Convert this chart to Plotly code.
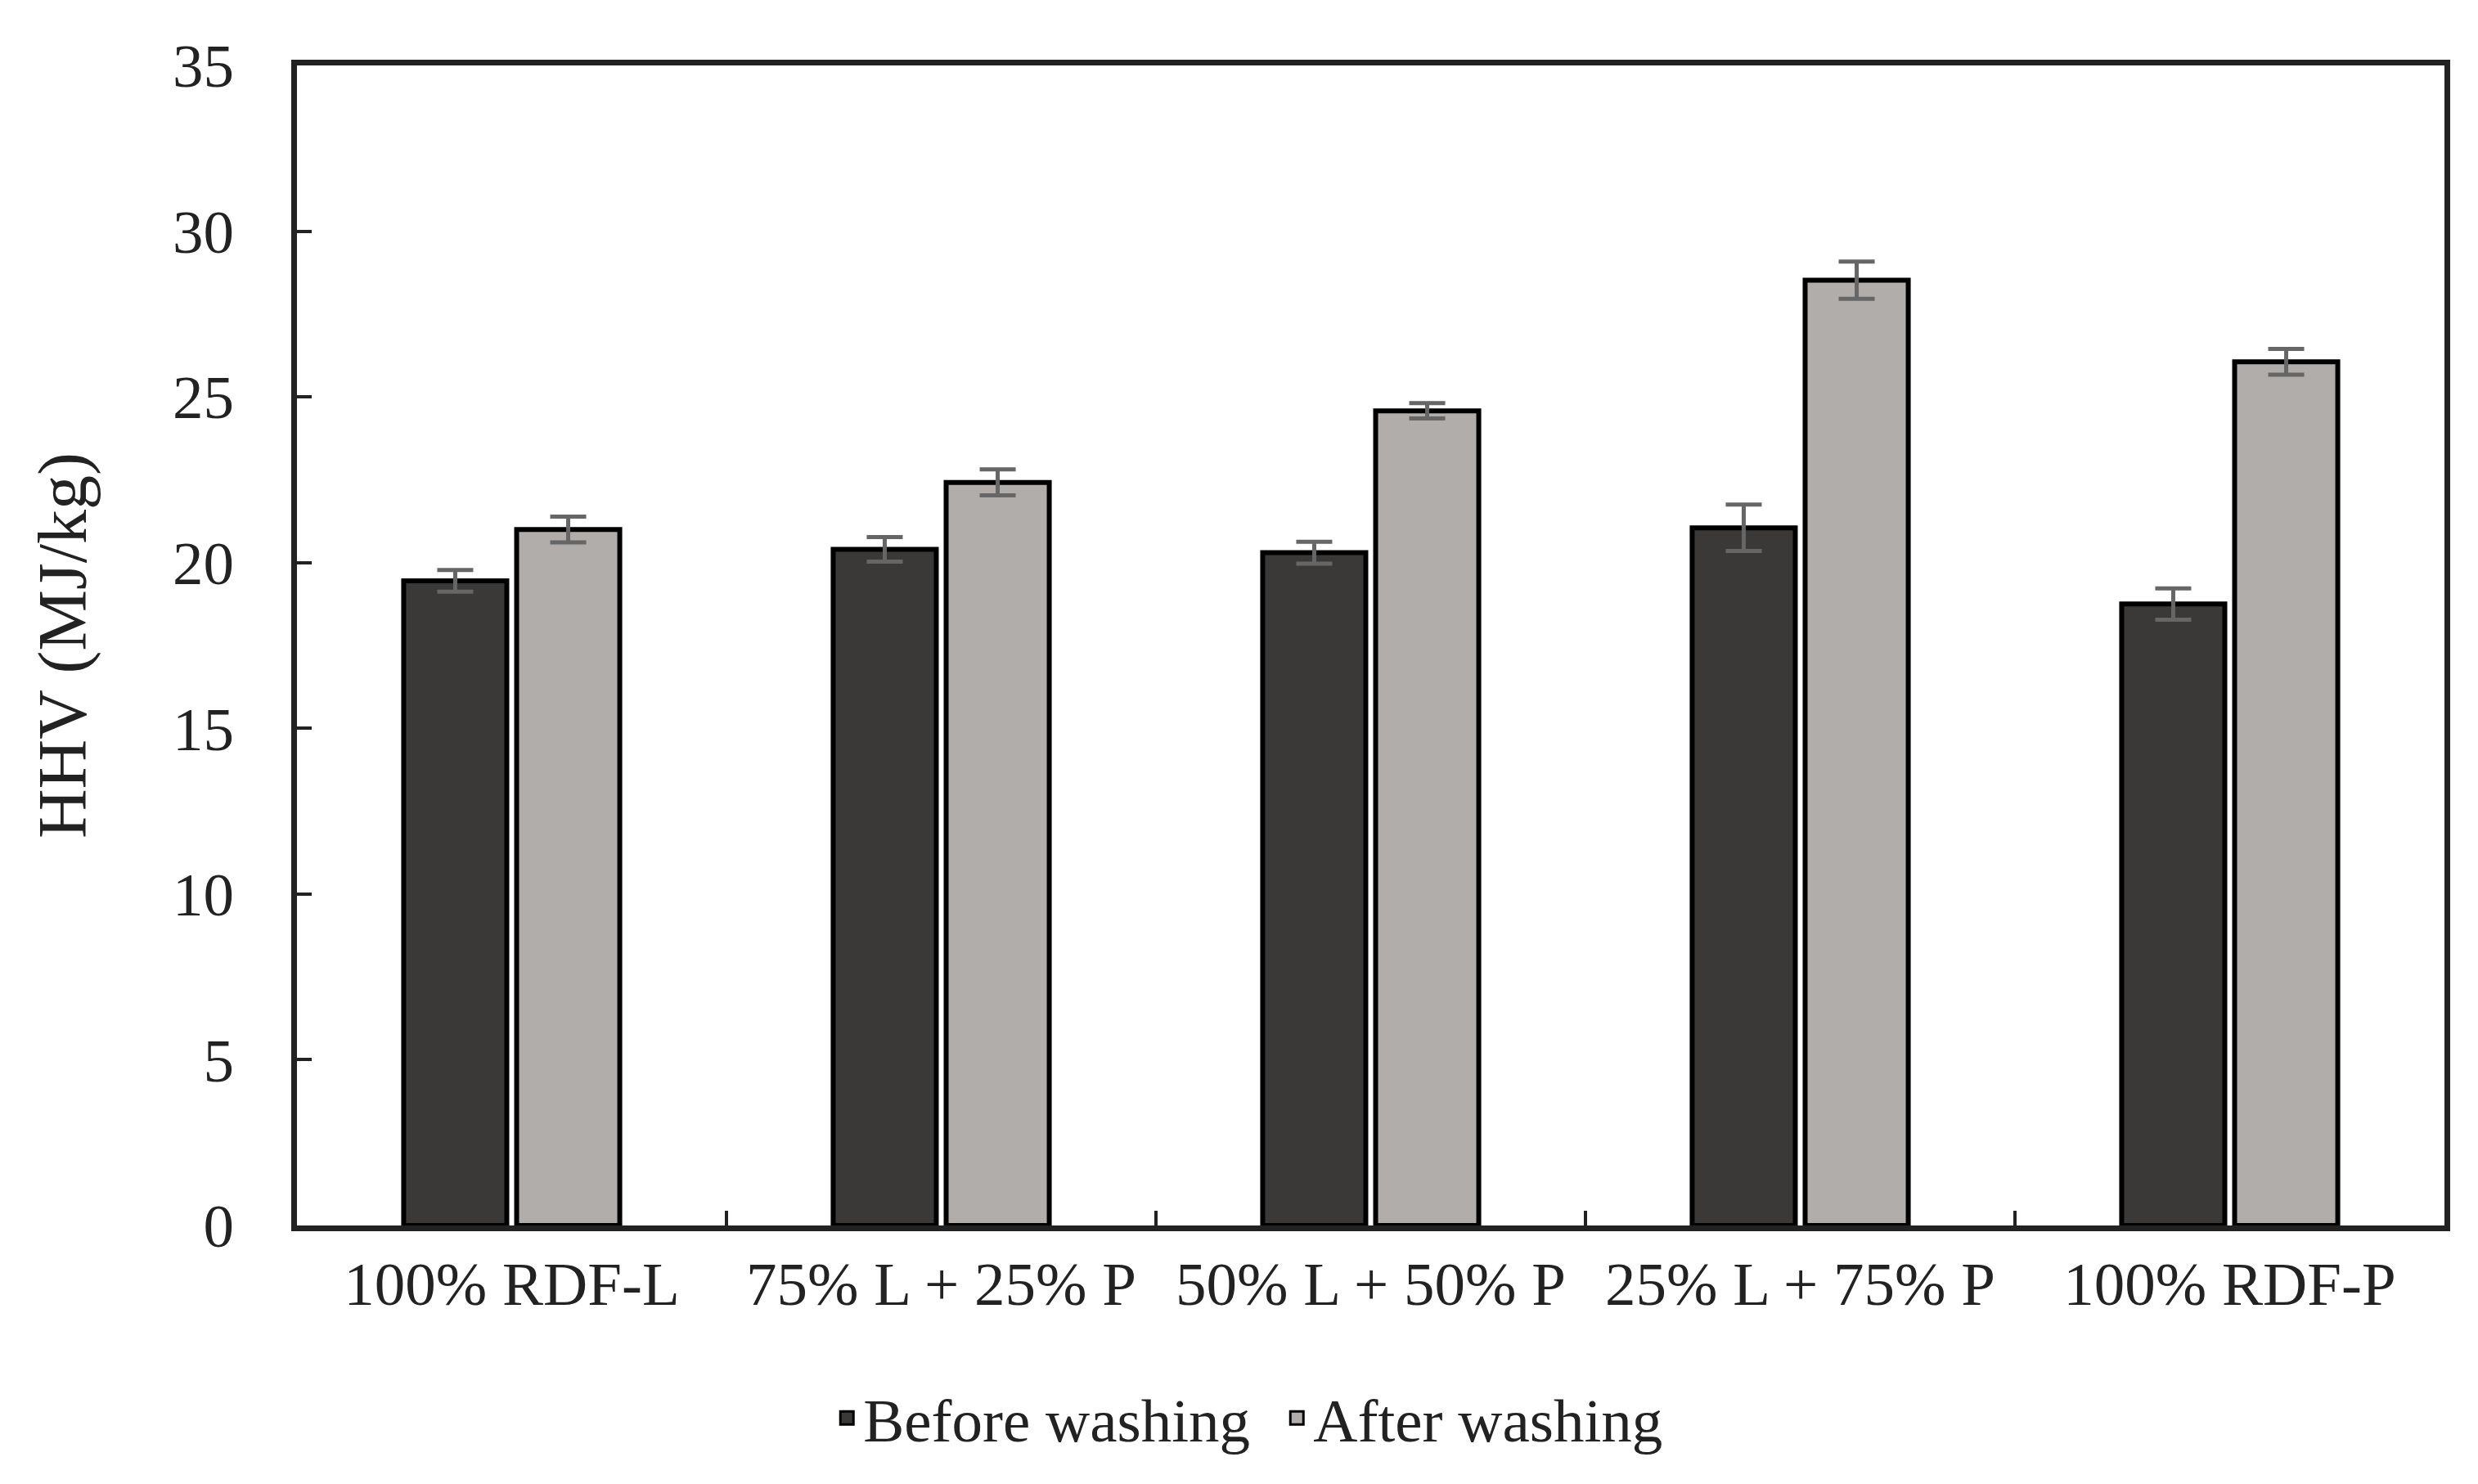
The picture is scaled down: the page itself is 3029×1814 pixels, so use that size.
import plotly.graph_objects as go

categories = ["100% RDF-L", "75% L + 25% P", "50% L + 50% P", "25% L + 75% P", "100% RDF-P"]
before = [19.45, 20.4, 20.3, 21.05, 18.75]
before_err = [0.33, 0.37, 0.33, 0.70, 0.47]
after = [21.0, 22.42, 24.58, 28.52, 26.06]
after_err = [0.39, 0.39, 0.23, 0.56, 0.39]
y_ticks = [0, 5, 10, 15, 20, 25, 30, 35]

DARK = "#3b3937"
LIGHT = "#b0adab"
FONT = "Liberation Serif"

fig = go.Figure()
for name, vals, errs, col in [("Before washing", before, before_err, DARK),
                              ("After washing", after, after_err, LIGHT)]:
    fig.add_trace(go.Bar(
        x=categories, y=vals, name=name, showlegend=False,
        marker=dict(color=col, line=dict(color="#000000", width=6)),
        error_y=dict(type="data", array=errs, visible=True, color="#666666",
                     thickness=5, width=22),
    ))
    # legend proxy
    fig.add_trace(go.Scatter(
        x=[None], y=[None], mode="markers", name=name,
        marker=dict(symbol="square", size=34, color=col,
                    line=dict(color="#000000", width=3)),
    ))

fig.update_layout(
    width=3029, height=1814,
    margin=dict(l=355, r=49, t=72, b=324),
    paper_bgcolor="white", plot_bgcolor="white",
    barmode="group", bargap=0.474, bargroupgap=0.087,
    font=dict(family=FONT, size=75, color="#222222"),
    legend=dict(orientation="h", x=0.458, xanchor="center", y=-0.166, yanchor="middle",
                font=dict(family=FONT, size=75, color="#222222"),
                itemwidth=30, entrywidth=505, tracegroupgap=0),
)
fig.update_xaxes(
    showline=True, linecolor="#222222", linewidth=7, mirror=True,
    ticks="inside", tickson="boundaries", ticklen=18, tickwidth=4, tickcolor="#222222",
    ticklabelstandoff=0, showgrid=False,
    tickfont=dict(family=FONT, size=75, color="#222222"),
)
fig.update_yaxes(
    range=[0, 35], tickvals=y_ticks,
    showline=True, linecolor="#222222", linewidth=7, mirror=True,
    ticks="inside", ticklen=18, tickwidth=4, tickcolor="#222222",
    ticklabelstandoff=55, showgrid=False, zeroline=False,
    tickfont=dict(family=FONT, size=75, color="#222222"),
    title=dict(text="HHV (MJ/kg)", font=dict(family=FONT, size=84, color="#222222"), standoff=80),
)

fig.write_html("out.html")
